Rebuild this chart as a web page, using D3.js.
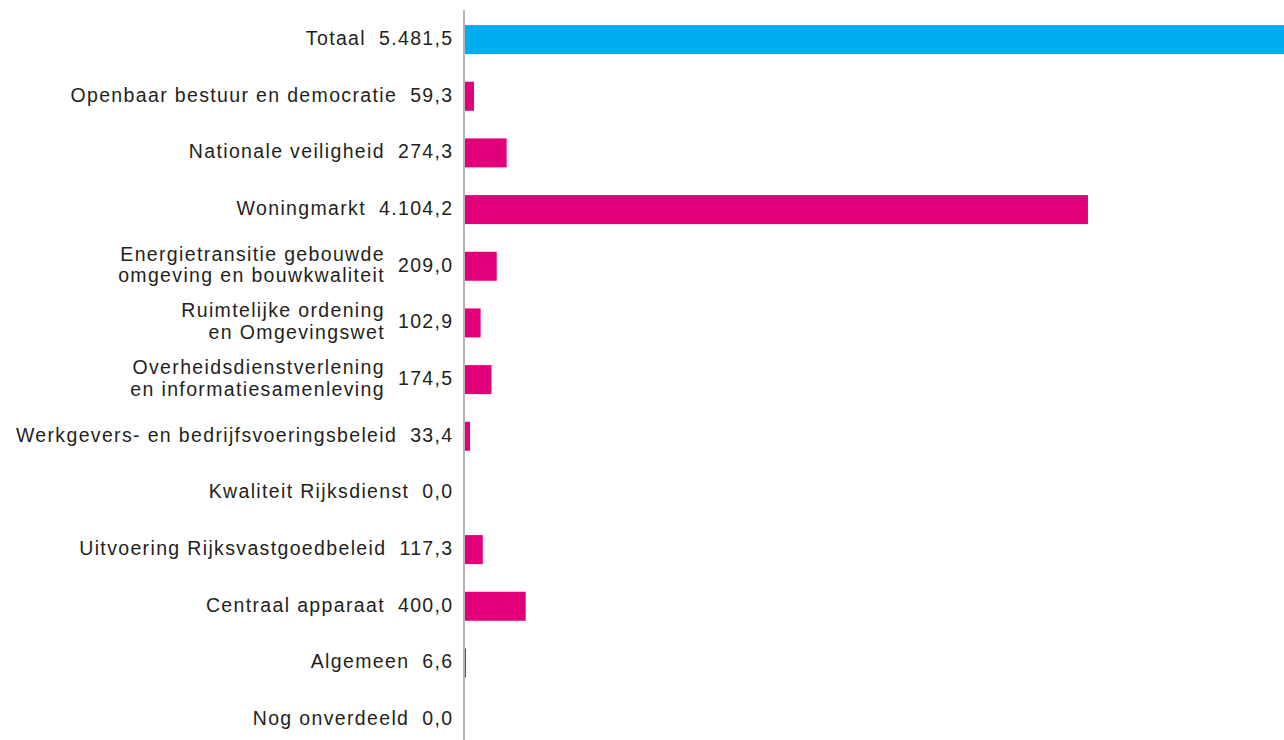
<!DOCTYPE html>
<html>
<head>
<meta charset="utf-8">
<script src="https://d3js.org/d3.v7.min.js"></script>
<style>
  html, body { margin: 0; padding: 0; background: #fff; overflow: hidden; }
  text { font-family: "Liberation Sans", Arial, sans-serif; font-size: 19.5px; letter-spacing: 1.35px; fill: #231f20; }
</style>
</head>
<body>
<div id="chart-holder"></div>
<script>
// categories (\n = line break in the label)
var categories = [
  "Totaal",
  "Openbaar bestuur en democratie",
  "Nationale veiligheid",
  "Woningmarkt",
  "Energietransitie gebouwde\nomgeving en bouwkwaliteit",
  "Ruimtelijke ordening\nen Omgevingswet",
  "Overheidsdienstverlening\nen informatiesamenleving",
  "Werkgevers- en bedrijfsvoeringsbeleid",
  "Kwaliteit Rijksdienst",
  "Uitvoering Rijksvastgoedbeleid",
  "Centraal apparaat",
  "Algemeen",
  "Nog onverdeeld"
];
var values = [5481.5, 59.3, 274.3, 4104.2, 209.0, 102.9, 174.5, 33.4, 0.0, 117.3, 400.0, 6.6, 0.0];

var width = 1284, height = 740;
var axisX = 465;

var nl = d3.formatLocale({decimal: ",", thousands: ".", grouping: [3], currency: ["€", ""]});
var fmt = nl.format(",.1f");

var x = d3.scaleLinear()
  .domain([0, d3.max(values)])
  .range([axisX, 1297]);

var y = d3.scaleBand()
  .domain(categories)
  .range([0, height])
  .paddingInner(0.488)
  .paddingOuter(0.273)
  .align(0.81);

var svg = d3.select("#chart-holder").append("svg")
  .attr("width", width)
  .attr("height", height);

// vertical axis line
svg.append("line")
  .attr("x1", axisX - 1).attr("x2", axisX - 1)
  .attr("y1", 10).attr("y2", height)
  .style("stroke", "#b5b5b5")
  .style("stroke-width", 2);

svg.selectAll("rect.bar")
  .data(categories)
  .enter()
  .append("rect")
  .attr("class", "bar")
  .attr("x", x(0))
  .attr("y", d => y(d))
  .attr("height", y.bandwidth())
  .attr("width", (d, i) => x(values[i]) - x(0))
  .style("fill", (d, i) => i === 0 ? "#00aeef" : "#e2007a");

var rows = svg.selectAll("g.row")
  .data(categories)
  .enter()
  .append("g")
  .attr("class", "row")
  .attr("transform", d => "translate(0," + (y(d) + y.bandwidth() / 2) + ")");

// value labels, right aligned next to the axis
rows.append("text")
  .attr("class", "val")
  .attr("x", 453.5)
  .attr("y", 5.3)
  .attr("text-anchor", "end")
  .text((d, i) => fmt(values[i]));

// category labels, right aligned left of the value
rows.each(function(d, i) {
  var g = d3.select(this);
  var vw = g.select("text.val").node().getComputedTextLength();
  var lines = d.split("\n");
  var t = g.append("text")
    .attr("text-anchor", "end");
  lines.forEach(function(line, j) {
    t.append("tspan")
      .attr("x", 453.5 - vw - 13)
      .attr("y", lines.length === 1 ? 5.3 : (j === 0 ? -5.5 : 16))
      .text(line);
  });
});
</script>
</body>
</html>
